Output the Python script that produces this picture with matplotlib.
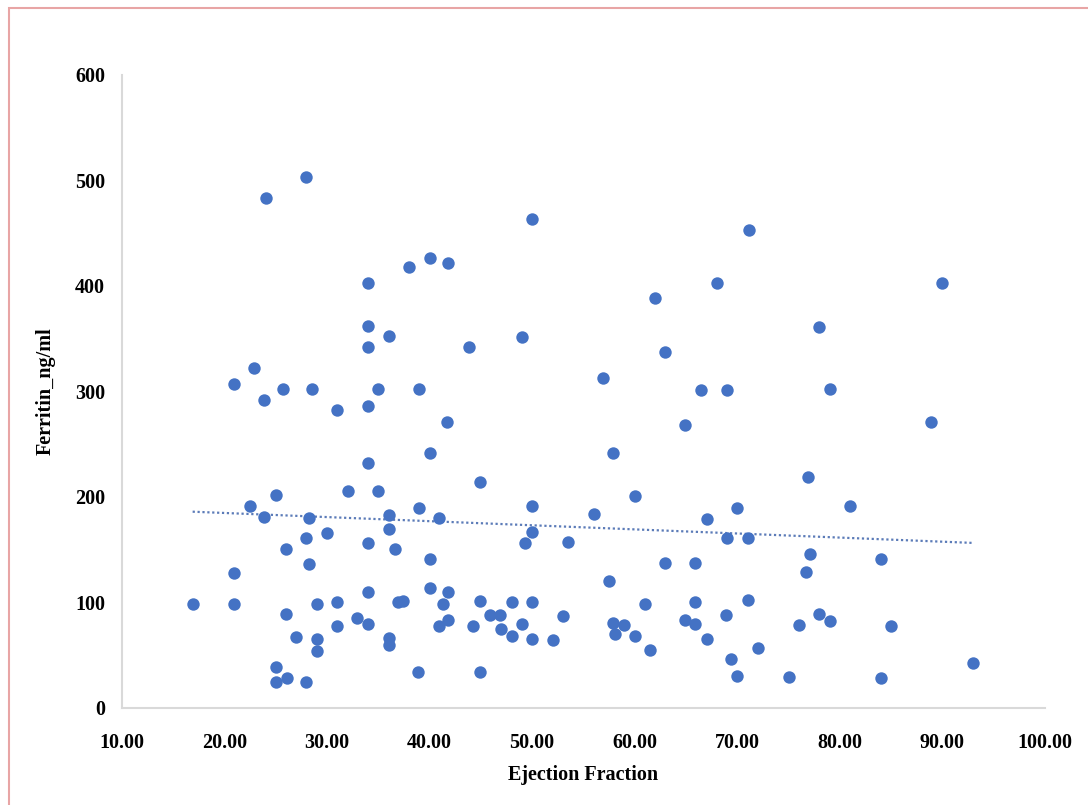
import numpy as np
import matplotlib
matplotlib.use("Agg")
import matplotlib.pyplot as plt
from matplotlib.patches import Rectangle

# values
ejection = [24.1, 28, 38, 40, 41.8, 34, 34, 36, 34, 22.9, 20.9, 23.85, 25.7, 28.5, 31, 34, 35, 39,
            41.7, 40, 34, 25, 32, 35, 22.5, 39, 23.85, 28.2, 36, 36, 40.9, 30, 28, 34, 26, 36.6,
            28.2, 40, 20.9, 16.9, 20.9, 29, 31, 34, 36.9, 37.4, 40, 41.3, 41.8, 26, 31, 32.9, 34,
            40.9, 41.8, 27, 29, 29, 36, 36, 38.9, 25, 25, 26.1, 28,
            50, 71.1, 68, 62, 43.8, 49, 63, 56.9, 66.5, 69, 64.9, 57.9, 44.9, 60, 50, 70, 56, 67,
            50, 49.3, 53.5, 69, 71, 63, 65.9, 57.5, 44.9, 48, 50, 71, 65.9, 61, 45.9, 46.9, 53,
            68.9, 44.2, 47, 49, 48, 50, 52, 57.9, 59, 58.1, 60, 61.5, 64.9, 65.9, 67, 72, 69.4,
            70, 44.9, 90, 78, 79, 88.9, 76.9, 81, 77.1, 76.7, 84, 78, 79, 76, 85, 75, 84, 93]
ferritin = [483, 503, 418, 426, 422, 403, 362, 353, 342, 322, 307, 292, 302, 302, 282, 286, 302, 302,
            271, 242, 232, 202, 206, 206, 191, 190, 181, 180, 183, 170, 180, 166, 161, 156, 151, 151,
            136, 141, 128, 99, 99, 99, 100, 110, 100, 101, 114, 99, 110, 89, 78, 85, 80,
            78, 83, 67, 65, 54, 66, 60, 34, 39, 25, 28, 25,
            463, 453, 403, 389, 342, 352, 337, 313, 301, 301, 268, 242, 214, 201, 191, 190, 184, 179,
            167, 156, 157, 161, 161, 137, 137, 120, 101, 100, 100, 102, 100, 99, 88, 88, 87,
            88, 78, 75, 80, 68, 65, 64, 81, 79, 70, 68, 55, 83, 80, 65, 57, 46,
            30, 34, 403, 361, 302, 271, 219, 191, 146, 129, 141, 89, 82, 79, 78, 29, 28, 43]
x_ticks = [10, 20, 30, 40, 50, 60, 70, 80, 90, 100]
y_ticks = [0, 100, 200, 300, 400, 500, 600]

blue = "#4472C4"
plt.rcParams['font.family'] = ['Liberation Serif', 'DejaVu Serif']

fig = plt.figure(figsize=(10.88, 8.05), dpi=100)
ax = fig.add_axes([0.112, 0.1205, 0.8485, 0.7865])

ax.scatter(ejection, ferritin, s=80, color=blue, zorder=3, linewidths=0)

# linear trend line
k, b = np.polyfit(ejection, ferritin, 1)
xs = np.array([min(ejection), max(ejection)])
ax.plot(xs, k * xs + b, linestyle=(0, (1, 1.2)), color="#5b7bb8", linewidth=1.6, zorder=2)

ax.set_xlim(10, 100)
ax.set_ylim(0, 600)
ax.set_xticks(x_ticks)
ax.set_xticklabels(["%.2f" % v for v in x_ticks], fontsize=14.5, fontweight='bold')
ax.set_yticks(y_ticks)
ax.set_yticklabels([str(v) for v in y_ticks], fontsize=14.5, fontweight='bold')
ax.tick_params(axis='x', length=0, pad=18)
ax.tick_params(axis='y', length=0, pad=12)

for side in ['top', 'right']:
    ax.spines[side].set_visible(False)
for side in ['left', 'bottom']:
    ax.spines[side].set_color("#d9d9d9")
    ax.spines[side].set_linewidth(1.5)

ax.set_xlabel("Ejection Fraction", fontsize=14.5, fontweight='bold', labelpad=9)
ax.set_ylabel("Ferritin_ng/ml", fontsize=14.5, fontweight='bold', labelpad=14)

# pinkish chart border
fig.patches.append(Rectangle((0.008, -0.01), 1.1, 1.0, transform=fig.transFigure,
                             fill=False, edgecolor="#e8a5a5", linewidth=1.5))

fig.savefig("out.png", dpi=100)
